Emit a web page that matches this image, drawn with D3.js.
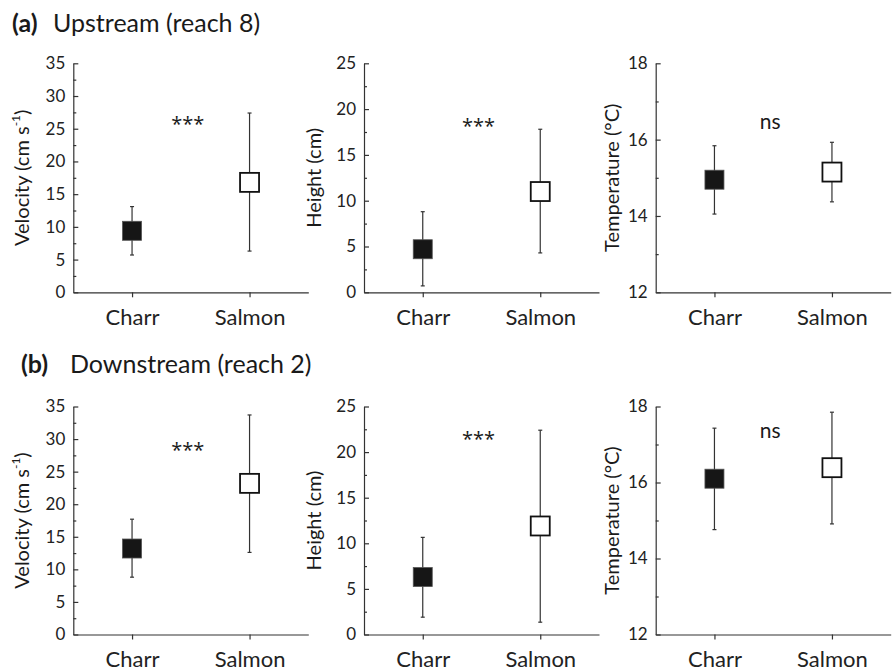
<!DOCTYPE html>
<html>
<head>
<meta charset="utf-8">
<script src="https://cdn.jsdelivr.net/npm/d3@7"></script>
<style>
  body { margin: 0; background: #fff; }
  svg { display: block; font-family: Lato, "Open Sans", sans-serif; }
  .axis path, .axis line { stroke: #333; stroke-width: 1.2; }
  .axis text { fill: #222; font-family: Lato, sans-serif; }
</style>
</head>
<body>
<svg id="chart" width="894" height="672"></svg>
<script>
let species = ['Charr', 'Salmon'];

// (a) upstream, reach 8
let upVelMean = [9.4, 16.8];
let upVelLow = [5.7, 6.3];
let upVelHigh = [13.1, 27.4];
let upHgtMean = [4.7, 11.0];
let upHgtLow = [0.7, 4.3];
let upHgtHigh = [8.8, 17.8];
let upTmpMean = [14.95, 15.15];
let upTmpLow = [14.05, 14.37];
let upTmpHigh = [15.84, 15.93];

// (b) downstream, reach 2
let downVelMean = [13.2, 23.2];
let downVelLow = [8.8, 12.6];
let downVelHigh = [17.7, 33.7];
let downHgtMean = [6.3, 11.9];
let downHgtLow = [1.9, 1.35];
let downHgtHigh = [10.65, 22.4];
let downTmpMean = [16.1, 16.39];
let downTmpLow = [14.76, 14.91];
let downTmpHigh = [17.43, 17.85];

let velTicks = [0, 5, 10, 15, 20, 25, 30, 35];
let hgtTicks = [0, 5, 10, 15, 20, 25];
let tmpTicks = [12, 14, 16, 18];

let sigLabels = ['***', '***', 'ns', '***', '***', 'ns'];
let sigValues = [26.6, 18.7, 16.43, 29.2, 22.0, 17.32];

let rowTitles = [['(a)', 'Upstream (reach 8)'], ['(b)', 'Downstream (reach 2)']];

let width = 235;
let colLeft = [73.3, 364, 655.7];
let rowTop = [63.3, 406.5];
let plotHeight = [229, 228];
let ylabOffset = [44, 43, 37];
let titleX = [[12, 53], [21, 70]];
let titleY = [32, 373];

let panels = [
    {row: 0, col: 0, mean: upVelMean, low: upVelLow, high: upVelHigh, ticks: velTicks, label: 'vel'},
    {row: 0, col: 1, mean: upHgtMean, low: upHgtLow, high: upHgtHigh, ticks: hgtTicks, label: 'Height (cm)'},
    {row: 0, col: 2, mean: upTmpMean, low: upTmpLow, high: upTmpHigh, ticks: tmpTicks, label: 'Temperature (°C)'},
    {row: 1, col: 0, mean: downVelMean, low: downVelLow, high: downVelHigh, ticks: velTicks, label: 'vel'},
    {row: 1, col: 1, mean: downHgtMean, low: downHgtLow, high: downHgtHigh, ticks: hgtTicks, label: 'Height (cm)'},
    {row: 1, col: 2, mean: downTmpMean, low: downTmpLow, high: downTmpHigh, ticks: tmpTicks, label: 'Temperature (°C)'},
];

let svg = d3.select('#chart');

// row titles
rowTitles.forEach((t, i) => {
    svg.append('text')
        .attr('x', titleX[i][0]).attr('y', titleY[i])
        .attr('font-size', 25).attr('font-weight', 'bold').attr('fill', '#1a1a1a')
        .text(t[0]);
    svg.append('text')
        .attr('x', titleX[i][1]).attr('y', titleY[i])
        .attr('font-size', 25).attr('fill', '#1a1a1a')
        .text(t[1]);
});

let drawPanel = (p, idx) => {
    let h = plotHeight[p.row];
    let g = svg.append('g')
        .attr('transform', `translate(${colLeft[p.col]},${rowTop[p.row]})`);

    let x = d3.scalePoint().domain(species).range([0, width]).padding(0.5);
    let y = d3.scaleLinear().domain(d3.extent(p.ticks)).range([h, 0]);

    // minor ticks halfway between majors
    let minor = p.ticks.slice(1).map((v, i) => (v + p.ticks[i]) / 2);
    g.append('g').attr('class', 'axis')
        .call(d3.axisLeft(y).tickValues(minor).tickSize(-3).tickSizeOuter(0).tickFormat(''))
        .select('.domain').remove();

    g.append('g').attr('class', 'axis')
        .call(d3.axisLeft(y).tickValues(p.ticks).tickSize(-5).tickSizeOuter(0).tickPadding(8)
            .tickFormat(d3.format('d')))
        .selectAll('text').attr('font-size', 17);

    g.append('g').attr('class', 'axis')
        .attr('transform', `translate(0,${h})`)
        .call(d3.axisBottom(x).tickSize(5).tickSizeOuter(0).tickPadding(12))
        .selectAll('text').attr('font-size', 22);

    // y label
    let yl = g.append('text')
        .attr('transform', `translate(${-ylabOffset[p.col]},${h / 2}) rotate(-90)`)
        .attr('text-anchor', 'middle')
        .attr('font-size', 20).attr('fill', '#1a1a1a');
    if (p.label === 'vel') {
        yl.append('tspan').text('Velocity (cm s');
        yl.append('tspan').attr('font-size', 12).attr('dy', -9).text('-1');
        yl.append('tspan').attr('dy', 9).text(')');
    } else {
        yl.text(p.label);
    }

    let rows = species.map((s, i) => ({s: s, mean: p.mean[i], low: p.low[i], high: p.high[i], i: i}));

    // error bars
    let eb = g.selectAll('.eb').data(rows).enter().append('g');
    eb.append('line')
        .attr('x1', d => x(d.s)).attr('x2', d => x(d.s))
        .attr('y1', d => y(d.low)).attr('y2', d => y(d.high))
        .attr('stroke', '#333').attr('stroke-width', 1.2);
    eb.selectAll('.cap').data(d => [d.low, d.high].map(v => ({s: d.s, v: v}))).enter()
        .append('line')
        .attr('x1', d => x(d.s) - 2).attr('x2', d => x(d.s) + 2)
        .attr('y1', d => y(d.v)).attr('y2', d => y(d.v))
        .attr('stroke', '#333').attr('stroke-width', 1.2);

    // mean markers
    g.selectAll('.mk').data(rows).enter().append('rect')
        .attr('x', d => x(d.s) - 9.5).attr('y', d => y(d.mean) - 9.5)
        .attr('width', 19).attr('height', 19)
        .attr('fill', d => d.i === 0 ? '#161616' : '#fff')
        .attr('stroke', d => d.i === 0 ? '#555' : '#111')
        .attr('stroke-width', d => d.i === 0 ? 0.8 : 1.8);

    // significance
    let isNs = sigLabels[idx] === 'ns';
    g.append('text')
        .attr('x', (x(species[0]) + x(species[1])) / 2 - 3)
        .attr('y', y(sigValues[idx]))
        .attr('dy', isNs ? '0.26em' : '0.62em')
        .attr('text-anchor', 'middle')
        .attr('font-family', isNs ? 'Lato, sans-serif' : '"Open Sans", sans-serif')
        .attr('font-size', isNs ? 21 : 20).attr('fill', '#1a1a1a')
        .text(sigLabels[idx]);
}

panels.forEach(drawPanel);
</script>
</body>
</html>
